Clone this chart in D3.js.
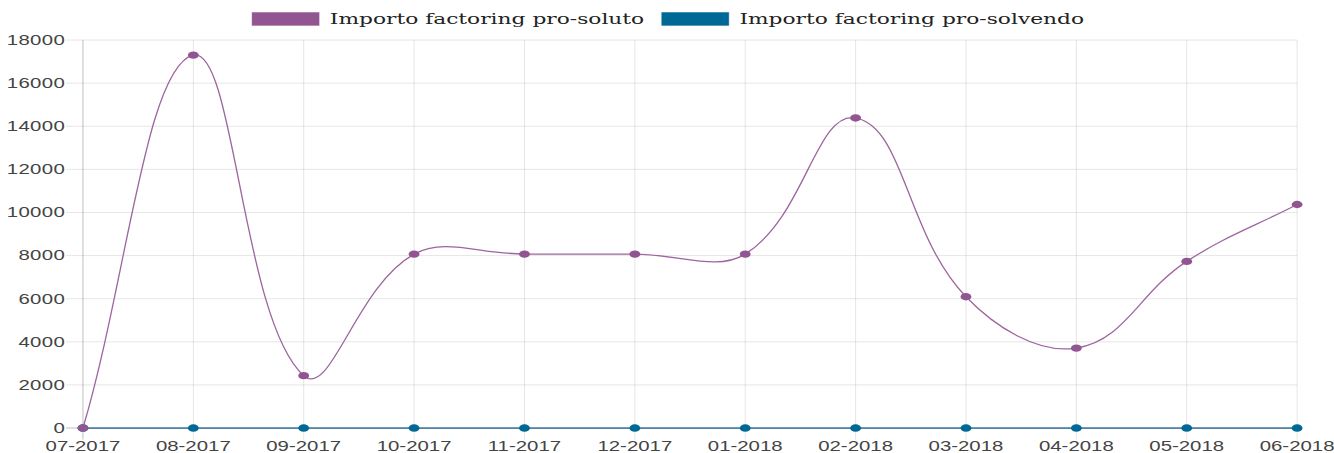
<!DOCTYPE html>
<html><head><meta charset="utf-8">
<script src="https://cdn.jsdelivr.net/npm/d3@7"></script>
<style>html,body{margin:0;padding:0;background:#fff;overflow:hidden}svg{display:block}</style>
</head><body>
<svg id="c" width="1334" height="453" viewBox="0 0 784.7 393.9" preserveAspectRatio="none"></svg>
<script>
const categories = ["07-2017","08-2017","09-2017","10-2017","11-2017","12-2017","01-2018","02-2018","03-2018","04-2018","05-2018","06-2018"];
const proSoluto = [0,17300,2430,8070,8070,8070,8070,14385,6090,3710,7730,10370];
const proSolvendo = [0,0,0,0,0,0,0,0,0,0,0,0];
const yTicks = [0,2000,4000,6000,8000,10000,12000,14000,16000,18000];
const seriesNames = ["Importo factoring pro-soluto","Importo factoring pro-solvendo"];
const seriesColors = ["#915691","#006895"];
const lineColors = ["#9d649e","#4f84a2"];

const svg = d3.select("#c");
const area = {left:48.8, right:763, top:34.8, bottom:372.2};
const x = d3.scalePoint().domain(categories).range([area.left, area.right]);
const y = d3.scaleLinear().domain([0,18000]).range([area.bottom, area.top]);

// grid
const g = svg.append("g");
g.selectAll("line.h").data(yTicks).join("line")
  .attr("x1", area.left-10).attr("x2", area.right)
  .attr("y1", d=>y(d)).attr("y2", d=>y(d))
  .attr("stroke", d=> d===0 ? "rgba(0,0,0,0.25)" : "rgba(0,0,0,0.1)")
  .attr("vector-effect","non-scaling-stroke").attr("stroke-width",1);
g.selectAll("line.v").data(categories).join("line")
  .attr("x1", d=>x(d)).attr("x2", d=>x(d))
  .attr("y1", area.top).attr("y2", area.bottom+10)
  .attr("stroke", (d,i)=> i===0 ? "rgba(0,0,0,0.25)" : "rgba(0,0,0,0.1)")
  .attr("vector-effect","non-scaling-stroke").attr("stroke-width",1);

// tick labels
svg.append("g").selectAll("text").data(yTicks).join("text")
  .attr("x", area.left-10.5).attr("y", d=>y(d)).attr("dy","0.35em")
  .attr("text-anchor","end").attr("font-family","Liberation Sans, Arial, sans-serif")
  .attr("font-size",12).attr("letter-spacing",0.2).attr("fill","#444").text(d=>d);
svg.append("g").selectAll("text").data(categories).join("text")
  .attr("x", d=>x(d)).attr("y", 392)
  .attr("text-anchor","middle").attr("font-family","Liberation Sans, Arial, sans-serif")
  .attr("font-size",12).attr("fill","#444").text(d=>d);

// Chart.js style spline
function splinePath(vals){
  const pts = vals.map((v,i)=>({x:x(categories[i]), y:y(v)}));
  const t = 0.4;
  pts.forEach((p,i)=>{
    const prev = pts[i-1]||p, next = pts[i+1]||p;
    const d01 = Math.hypot(p.x-prev.x, p.y-prev.y);
    const d12 = Math.hypot(next.x-p.x, next.y-p.y);
    let s01 = d01/(d01+d12), s12 = d12/(d01+d12);
    if(isNaN(s01)) s01=0; if(isNaN(s12)) s12=0;
    const fa = t*s01, fb = t*s12;
    p.cpx1 = p.x - fa*(next.x-prev.x); p.cpy1 = p.y - fa*(next.y-prev.y);
    p.cpx2 = p.x + fb*(next.x-prev.x); p.cpy2 = p.y + fb*(next.y-prev.y);
    const cl = (v,a,b)=>Math.max(a,Math.min(b,v));
    p.cpx1 = cl(p.cpx1, area.left, area.right); p.cpx2 = cl(p.cpx2, area.left, area.right);
    p.cpy1 = cl(p.cpy1, area.top, area.bottom); p.cpy2 = cl(p.cpy2, area.top, area.bottom);
  });
  const path = d3.path();
  path.moveTo(pts[0].x, pts[0].y);
  for(let i=1;i<pts.length;i++){
    const a=pts[i-1], b=pts[i];
    path.bezierCurveTo(a.cpx2,a.cpy2,b.cpx1,b.cpy1,b.x,b.y);
  }
  return path.toString();
}

const series = [proSoluto, proSolvendo];
[1,0].forEach(si=>{
  const vals = series[si];
  svg.append("path").attr("d", splinePath(vals)).attr("fill","none")
    .attr("stroke", lineColors[si]).attr("stroke-width", si===1?1.8:1.3)
    .attr("vector-effect","non-scaling-stroke");
  svg.append("g").selectAll("circle").data(vals).join("circle")
    .attr("cx",(d,i)=>x(categories[i])).attr("cy",d=>y(d)).attr("r",3.2)
    .attr("fill", seriesColors[si]);
});

// legend
const leg = svg.append("g");
const items = seriesNames.map((n,i)=>{
  const t = leg.append("text").attr("font-family","DejaVu Serif, serif").attr("font-size",12.8)
    .attr("fill","#222").attr("y",16.5).attr("dy","0.35em").text(n);
  return {t, w: t.node().getComputedTextLength()};
});
const totalW = items.reduce((s,it)=>s+40+6+it.w,0) + 10*(items.length-1);
let cx = 784.7/2 + 0.5 - totalW/2;
items.forEach((it,i)=>{
  leg.append("rect").attr("x",cx).attr("y",10.5).attr("width",40).attr("height",12)
    .attr("fill",seriesColors[i]).attr("stroke","rgba(255,255,255,0.6)").attr("stroke-width",0.5);
  it.t.attr("x", cx+46);
  cx += 46 + it.w + 10;
});
</script>
</body></html>
